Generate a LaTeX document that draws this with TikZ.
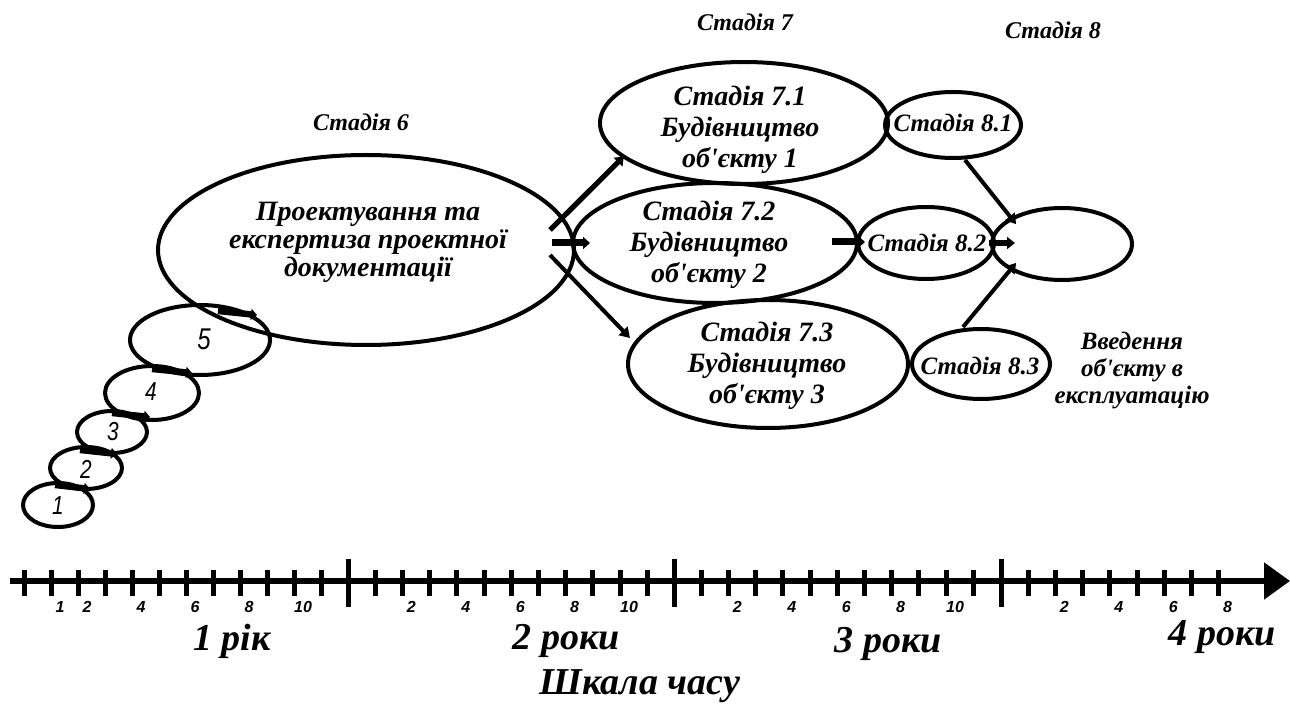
\documentclass[tikz,border=0pt]{standalone}
\usepackage{fontspec}
\setmainfont{Liberation Serif}
\newfontfamily\tf{Liberation Serif}
\newfontfamily\numfont{Liberation Sans}
\usetikzlibrary{arrows.meta,calc,shapes.geometric}
\tikzset{
  ell/.style={draw, ellipse, line width=2pt, inner sep=0pt},
  txt/.style={align=center, inner sep=0pt},
  big/.style={txt, font=\tf\bfseries\itshape\fontsize{14}{15.5}\selectfont},
  mid/.style={txt, font=\tf\bfseries\itshape\fontsize{12.5}{13.5}\selectfont},
  doc/.style={txt, font=\tf\bfseries\itshape\fontsize{14}{14}\selectfont},
  stg/.style={txt, font=\tf\bfseries\itshape\fontsize{12}{13}\selectfont},
  yr/.style={txt, font=\tf\bfseries\itshape\fontsize{19}{20}\selectfont},
  num/.style={inner sep=0pt, font=\numfont\itshape\fontsize{13}{13}\selectfont, xscale=0.8},
  mon/.style={inner sep=0pt, font=\numfont\bfseries\itshape\fontsize{8}{8}\selectfont},
  bar/.style={line width=3.2pt, -{Triangle[length=3pt,width=5.5pt]}},
  thick arr/.style={line width=3.5pt, -{Triangle[length=3.5pt,width=6pt]}},
  med arr/.style={line width=2.6pt, -{Triangle[length=4pt,width=6pt]}},
  thin arr/.style={line width=2pt, -{Triangle[length=5pt,width=6pt]}},
}
\begin{document}
\begin{tikzpicture}[x=0.5pt,y=-0.5pt]
\useasboundingbox (0,0) rectangle (1290,705);
% small ellipses
\node[ell, minimum width=35pt, minimum height=22pt] (e1) at (58,505) {};
\node[ell, minimum width=36pt, minimum height=21pt] (e2) at (86,468) {};
\node[ell, minimum width=35pt, minimum height=21pt] (e3) at (112,432) {};
\node[ell, minimum width=47pt, minimum height=27pt] (e4) at (152,393) {};
\node[ell, minimum width=70pt, minimum height=35pt] (e5) at (200,340) {};
\node[num] (n1) at (58,506) {1};
\node[num] (n2) at (86,469) {2};
\node[num] (n3) at (113,432) {3};
\node[num] (n4) at (151,392) {4};
\node[num, font=\numfont\itshape\fontsize{15}{15}\selectfont] (n5) at (204,339) {5};
% big ellipses
\node[ell, minimum width=208pt, minimum height=95pt] (e6) at (366,250) {};
\node[ell, minimum width=144pt, minimum height=61pt] (e71) at (744,123) {};
\node[ell, minimum width=142pt, minimum height=60pt] (e72) at (715,243) {};
\node[ell, minimum width=140pt, minimum height=64pt] (e73) at (768,364) {};
\node[ell, minimum width=68pt, minimum height=33pt] (e81) at (953,125) {};
\node[ell, minimum width=68pt, minimum height=36pt] (e82) at (926,243) {};
\node[ell, minimum width=69pt, minimum height=35pt] (e83) at (981,364) {};
\node[ell, minimum width=70pt, minimum height=36pt] (fin) at (1062,244) {};
% texts
\node[stg] (s6) at (361,122) {Стадія 6};
\node[stg] (s7) at (745,22) {Стадія 7};
\node[stg] (s8) at (1053,30) {Стадія 8};
\node[doc] (t6) at (368,242) {Проектування та\\експертиза проектної\\документації};
\node[big] (t71) at (740,130) {Стадія 7.1\\Будівництво\\об'єкту 1};
\node[big] (t72) at (709,245) {Стадія 7.2\\Будівництво\\об'єкту 2};
\node[big] (t73) at (767,366) {Стадія 7.3\\Будівництво\\об'єкту 3};
\node[mid] (t81) at (953,123) {Стадія 8.1};
\node[mid] (t82) at (927,243) {Стадія 8.2};
\node[mid] (t83) at (980,366) {Стадія 8.3};
\node[mid] (tv) at (1132,371) {Введення\\об'єкту в\\експлуатацію};
% connectors between small ellipses
\draw[bar] ($(e1.north)+(-3,4)$) -- ($(e2.south)+(4,-2)$);
\draw[bar] ($(e2.north)+(-6,5)$) -- ($(e3.south)+(5,-1)$);
\draw[bar] ($(e3.north)+(0,4)$) -- ($(e4.south)+(-2,-5)$);
\draw[bar] ($(e4.north)+(0,5)$) -- ($(e5.south)+(-8,-4)$);
\draw[bar] ($(e5.north)+(18,8)$) -- ($(e6.south)+(-109,-32)$);
% stage 6 to 7
\draw[med arr] ($(e6.east)+(-26,-20)$) -- ($(e71.south west)+(-17,-11)$);
\draw[thick arr] ($(e6.east)+(-24,-7)$) -- ($(e72.west)+(19,0)$);
\draw[thin arr] ($(e6.east)+(-26,5)$) -- ($(e73.west)+(4,-26)$);
% stage 7 to 8
\draw[thick arr] ($(e72.east)+(-27,-1)$) -- ($(e82.west)+(9,-1)$);
% stage 8 to final
\draw[thin arr] ($(e81.south)+(12,0)$) -- ($(fin.north west)+(5,7)$);
\draw[med arr] ($(e82.east)+(-7,0)$) -- ($(fin.west)+(25,-1)$);
\draw[thin arr] ($(e83.north)+(-18,0)$) -- ($(fin.south west)+(5,-8)$);
% time axis
\coordinate (a0) at (10,581);
\coordinate (a1) at (1290,581);
\draw[line width=2.6pt, -{Triangle[length=13pt,width=18pt]}] (a0) -- (a1);
\foreach \i in {0,...,11} \draw[line width=2.5pt] (24+27.0*\i,570) -- (24+27.0*\i,596);
\foreach \s/\n in {348/11, 674/11, 1001/8}
  \foreach \i in {1,...,\n} \draw[line width=2.5pt] (\s+27.2*\i,570) -- (\s+27.2*\i,596);
\foreach \s in {348, 674, 1001} \draw[line width=2.5pt] (\s,559) -- (\s,607);
% month labels
\foreach \m in {1,2,4,6,8,10} \node[mon] at (24+27.0*\m+9,607) {\m};
\foreach \m in {2,4,6,8,10} \node[mon] at (348+27.2*\m+9,607) {\m};
\foreach \m in {2,4,6,8,10} \node[mon] at (674+27.2*\m+9,607) {\m};
\foreach \m in {2,4,6,8} \node[mon] at (1001+27.2*\m+9,607) {\m};
% year labels
\node[yr] (y1) at (232,641) {1 рік};
\node[yr] (y2) at (566,641) {2 роки};
\node[yr] (y3) at (888,644) {3 роки};
\node[yr] (y4) at (1222,637) {4 роки};
\node[yr] (sc) at (640,686) {Шкала часу};
\end{tikzpicture}
\end{document}
